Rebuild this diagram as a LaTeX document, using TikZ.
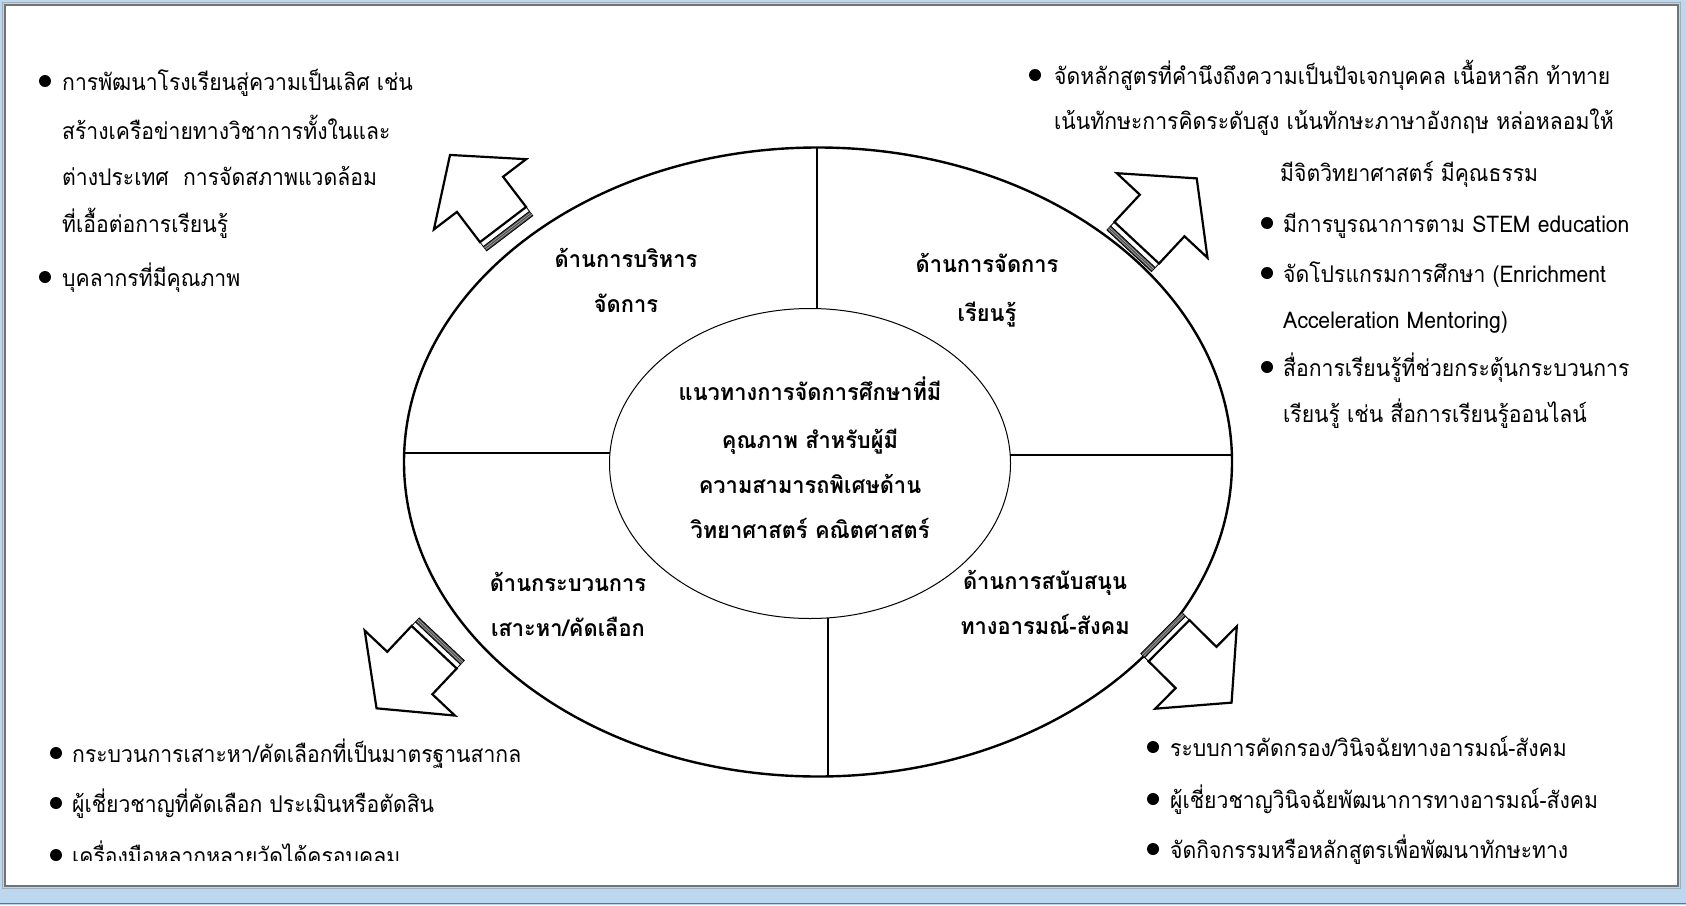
\documentclass[tikz,border=0pt]{standalone}
\usepackage{fontspec}
\newfontfamily\thaifont[Script=Thai,FakeStretch=0.92]{Loma}
\newfontfamily\thaibold[Script=Thai,FakeStretch=0.95]{Loma}
\definecolor{framebg}{RGB}{189,215,238}
\definecolor{frameline}{RGB}{115,115,115}
\definecolor{bottomline}{RGB}{80,120,170}
\tikzset{
 bodytxt/.style={anchor=base west, inner sep=0pt, font=\thaifont\fontsize{23}{23}\selectfont},
 labeltxt/.style={anchor=base, inner sep=0pt, font=\thaibold\bfseries\fontsize{23}{23}\selectfont},
 outerring/.style={line width=2.4pt},
 innerring/.style={line width=1pt},
 divider/.style={line width=1.5pt},
 arrowbody/.style={line width=2.2pt, fill=white, line join=miter},
 stripe/.style={line width=0.8pt, fill=black!70},
}
\newcommand\blockarrow[7]{%
 \begin{scope}[shift={(#1,#2)}, rotate=#3]
  \draw[arrowbody] (11,-#6) -- (#7,-#6) -- (#7,-#5) -- (#4,0) -- (#7,#5) -- (#7,#6) -- (11,#6) -- cycle;
  \draw[line width=0.8pt] (5.5,-#6) -- (11,-#6) (5.5,#6) -- (11,#6);
  \draw[stripe] (0,-#6) rectangle (5.5,#6);
  \draw[line width=0.5pt, white!70!black] (1.8,-#6) -- (1.8,#6) (3.7,-#6) -- (3.7,#6);
 \end{scope}}
\begin{document}
\begin{tikzpicture}[x=1pt,y=-1pt]
\useasboundingbox (0,0) rectangle (1686,905);
% frame
\fill[framebg] (0,0) rectangle (1686,905);
\fill[white] (5,5) rectangle (1678,886);
\draw[frameline, line width=1.2pt] (5,5) rectangle (1678,886);
\draw[frameline!60, line width=0.8pt] (2.5,2.5) rectangle (1680.5,888.5);
\draw[bottomline, line width=1.5pt] (0,903.5) -- (1686,903.5);

% rings
\draw[outerring] (818,462) ellipse [x radius=414, y radius=314.5];
\draw[innerring] (810,463.5) ellipse [x radius=200.5, y radius=155];
\coordinate (otop) at (817,147.5);
\coordinate (itop) at (817,308.6);
\coordinate (ibot) at (828,618);
\coordinate (obot) at (828,776.4);
\coordinate (oleft) at (404.2,453);
\coordinate (ileft) at (610,453);
\coordinate (iright) at (1010.2,455);
\coordinate (oright) at (1231.9,455);
\draw[divider] (otop) -- (itop);
\draw[divider] (ibot) -- (obot);
\draw[divider] (oleft) -- (ileft);
\draw[divider] (iright) -- (oright);

% block arrows
\blockarrow{509.7}{233.3}{127.3}{98.5}{58}{29}{49}
\blockarrow{1129.2}{250.8}{47}{99}{62}{30.5}{48.3}
\blockarrow{441.7}{639.2}{226.7}{95}{62}{31}{46.5}
\blockarrow{1161.2}{633}{315.3}{99}{58}{29}{49}

% quadrant labels
\node[labeltxt] (q1a) at (626,267) {ด้านการบริหาร};
\node[labeltxt] (q1b) at (626,312) {จัดการ};
\node[labeltxt] (q2a) at (987,272) {ด้านการจัดการ};
\node[labeltxt] (q2b) at (987,321) {เรียนรู้};
\node[labeltxt] (q3a) at (568,591) {ด้านกระบวนการ};
\node[labeltxt] (q3b) at (568,636) {เสาะหา/คัดเลือก};
\node[labeltxt] (q4a) at (1045,589) {ด้านการสนับสนุน};
\node[labeltxt] (q4b) at (1045,634) {ทางอารมณ์-สังคม};
% centre
\node[labeltxt] (c1) at (810,400) {แนวทางการจัดการศึกษาที่มี};
\node[labeltxt] (c2) at (810,448) {คุณภาพ สำหรับผู้มี};
\node[labeltxt] (c3) at (810,493) {ความสามารถพิเศษด้าน};
\node[labeltxt] (c4) at (810,538) {วิทยาศาสตร์ คณิตศาสตร์};

% top-left list
\fill (45,81) circle[radius=6pt];
\fill (45,277) circle[radius=6pt];
\node[bodytxt] (tl1) at (62,90) {การพัฒนาโรงเรียนสู่ความเป็นเลิศ เช่น};
\node[bodytxt] (tl2) at (62,139) {สร้างเครือข่ายทางวิชาการทั้งในและ};
\node[bodytxt] (tl3) at (62,185) {ต่างประเทศ\ \ การจัดสภาพแวดล้อม};
\node[bodytxt] (tl4) at (62,232) {ที่เอื้อต่อการเรียนรู้};
\node[bodytxt] (tl5) at (62,286) {บุคลากรที่มีคุณภาพ};

% top-right list
\fill (1035,75) circle[radius=6pt];
\fill (1267,223) circle[radius=6pt];
\fill (1267,273) circle[radius=6pt];
\fill (1267,367) circle[radius=6pt];
\node[bodytxt] (tr1) at (1054,84) {จัดหลักสูตรที่คำนึงถึงความเป็นปัจเจกบุคคล เนื้อหาลึก ท้าทาย};
\node[bodytxt] (tr2) at (1054,129) {เน้นทักษะการคิดระดับสูง เน้นทักษะภาษาอังกฤษ หล่อหลอมให้};
\node[bodytxt] (tr3) at (1280,181) {มีจิตวิทยาศาสตร์ มีคุณธรรม};
\node[bodytxt] (tr4) at (1283,232) {มีการบูรณาการตาม STEM education};
\node[bodytxt] (tr5) at (1283,282) {จัดโปรแกรมการศึกษา (Enrichment};
\node[bodytxt] (tr6) at (1283,328) {Acceleration Mentoring)};
\node[bodytxt] (tr7) at (1283,376) {สื่อการเรียนรู้ที่ช่วยกระตุ้นกระบวนการ};
\node[bodytxt] (tr8) at (1283,422) {เรียนรู้ เช่น สื่อการเรียนรู้ออนไลน์};

% bottom-left list
\fill (56,753) circle[radius=6pt];
\fill (56,803) circle[radius=6pt];
\fill (56,855) circle[radius=6pt];
\node[bodytxt] (bl1) at (72,762) {กระบวนการเสาะหา/คัดเลือกที่เป็นมาตรฐานสากล};
\node[bodytxt] (bl2) at (72,812) {ผู้เชี่ยวชาญที่คัดเลือก ประเมินหรือตัดสิน};
\begin{scope}
 \clip (60,825) rectangle (620,860);
 \node[bodytxt] (bl3) at (72,864) {เครื่องมือหลากหลายวัดได้ครอบคลุม};
\end{scope}

% bottom-right list
\fill (1153,747) circle[radius=6pt];
\fill (1153,799) circle[radius=6pt];
\fill (1153,849) circle[radius=6pt];
\node[bodytxt] (br1) at (1170,756) {ระบบการคัดกรอง/วินิจฉัยทางอารมณ์-สังคม};
\node[bodytxt] (br2) at (1170,808) {ผู้เชี่ยวชาญวินิจฉัยพัฒนาการทางอารมณ์-สังคม};
\node[bodytxt] (br3) at (1170,858) {จัดกิจกรรมหรือหลักสูตรเพื่อพัฒนาทักษะทาง};
\end{tikzpicture}
\end{document}
